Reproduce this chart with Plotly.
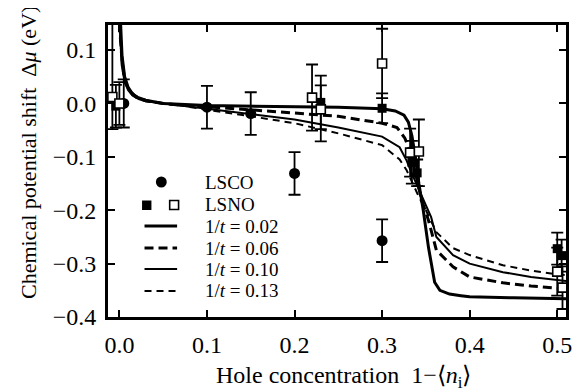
import plotly.graph_objects as go

# ---------------- data ----------------
# theory curves (1/t values)
c002_x = [0.0, 0.001, 0.003, 0.006, 0.01, 0.015, 0.02, 0.03, 0.05, 0.1, 0.15, 0.2, 0.25, 0.3, 0.315, 0.325,
          0.33, 0.334, 0.338, 0.342, 0.347, 0.353, 0.36, 0.366, 0.377, 0.39, 0.4, 0.45, 0.5, 0.512]
c002_y = [0.2, 0.16, 0.09, 0.05, 0.03, 0.018, 0.012, 0.006, 0.0, -0.004, -0.005, -0.005, -0.007, -0.01, -0.014, -0.022,
          -0.035, -0.06, -0.1, -0.15, -0.2, -0.27, -0.335, -0.35, -0.357, -0.36, -0.362, -0.364, -0.366, -0.366]

c006_x = [0.0, 0.003, 0.006, 0.01, 0.015, 0.02, 0.03, 0.05, 0.075, 0.1, 0.15, 0.2, 0.25, 0.3, 0.317, 0.326,
          0.332, 0.338, 0.345, 0.353, 0.362, 0.381, 0.4, 0.438, 0.47, 0.5, 0.512]
c006_y = [0.15, 0.08, 0.045, 0.028, 0.017, 0.011, 0.005, 0.0, -0.004, -0.006, -0.012, -0.018, -0.024, -0.037, -0.045, -0.065,
          -0.09, -0.13, -0.18, -0.219, -0.275, -0.306, -0.325, -0.336, -0.342, -0.346, -0.347]

c010_x = [0.0, 0.003, 0.006, 0.01, 0.015, 0.022, 0.03, 0.05, 0.075, 0.1, 0.15, 0.2, 0.25, 0.3, 0.32, 0.328,
          0.335, 0.342, 0.35, 0.356, 0.362, 0.381, 0.4, 0.438, 0.47, 0.5, 0.512]
c010_y = [0.15, 0.07, 0.04, 0.025, 0.015, 0.008, 0.004, 0.0, -0.005, -0.01, -0.02, -0.03, -0.045, -0.062, -0.082, -0.107,
          -0.135, -0.16, -0.19, -0.213, -0.25, -0.284, -0.3, -0.316, -0.325, -0.331, -0.333]

c013_x = [0.0, 0.003, 0.007, 0.012, 0.018, 0.025, 0.035, 0.05, 0.075, 0.1, 0.15, 0.2, 0.25, 0.3, 0.32, 0.328,
          0.335, 0.342, 0.35, 0.362, 0.381, 0.4, 0.438, 0.47, 0.5, 0.512]
c013_y = [0.15, 0.065, 0.04, 0.025, 0.015, 0.009, 0.004, 0.0, -0.005, -0.012, -0.024, -0.037, -0.056, -0.078, -0.105, -0.125,
          -0.15, -0.175, -0.2, -0.241, -0.271, -0.284, -0.303, -0.313, -0.32, -0.322]

# LSCO (filled circles)
lsco_x = [0.005, 0.1, 0.15, 0.2, 0.3]
lsco_y = [0.0, -0.007, -0.019, -0.131, -0.257]
lsco_err = [0.045, 0.04, 0.04, 0.04, 0.04]

# LSNO filled squares
lsnof_x = [-0.004, 0.23, 0.3, 0.334, 0.34, 0.5, 0.505]
lsnof_y = [-0.005, 0.002, -0.009, -0.11, -0.13, -0.272, -0.285]
lsnof_err = [0.04, 0.05, 0.028, 0.04, 0.025, 0.03, 0.03]

# LSNO open squares
lsnoo_x = [-0.008, 0.0, 0.22, 0.23, 0.3, 0.332, 0.342, 0.5, 0.506]
lsnoo_y = [0.012, 0.0, 0.011, -0.011, 0.075, -0.092, -0.09, -0.315, -0.345]
lsnoo_errp = [0.14, 0.04, 0.062, 0.045, 0.065, 0.045, 0.06, 0.045, 0.04]
lsnoo_errm = [0.06, 0.04, 0.062, 0.06, 0.065, 0.045, 0.065, 0.045, 0.04]

x_ticks = [0.0, 0.1, 0.2, 0.3, 0.4, 0.5]
y_ticks = [0.1, 0.0, -0.1, -0.2, -0.3, -0.4]
legend_labels = ["LSCO", "LSNO", "1/<i>t</i> = 0.02", "1/<i>t</i> = 0.06", "1/<i>t</i> = 0.10", "1/<i>t</i> = 0.13"]

# ---------------- figure ----------------
FONT = "Liberation Serif, Times New Roman, serif"
OFF = 8  # default page body margin
W, H = 582 - OFF, 392 - OFF
L, R, T, B = 108 - OFF, 10, 25 - OFF, 75
PW, PH = W - L - R, H - T - B

def px(x):  # page pixel x -> paper
    return (x - OFF - L) / PW

def py(y):  # page pixel y -> paper
    return (H - B - (y - OFF)) / PH

fig = go.Figure()

curve_styles = [
    (c002_x, c002_y, 3.0, "solid"),
    (c006_x, c006_y, 3.0, "9px,5px"),
    (c010_x, c010_y, 2.0, "solid"),
    (c013_x, c013_y, 2.0, "7px,5px"),
]
for cx, cy, w, d in curve_styles:
    fig.add_trace(go.Scatter(x=cx, y=cy, mode="lines",
                             line=dict(color="black", width=w, dash=d),
                             showlegend=False, hoverinfo="skip"))

eb = dict(type="data", color="black", thickness=1.8, width=6)
fig.add_trace(go.Scatter(x=lsco_x, y=lsco_y, mode="markers",
                         marker=dict(symbol="circle", size=11, color="black"),
                         error_y=dict(array=lsco_err, **eb), showlegend=False))
fig.add_trace(go.Scatter(x=lsnof_x, y=lsnof_y, mode="markers",
                         marker=dict(symbol="square", size=9, color="black"),
                         error_y=dict(array=lsnof_err, **eb), showlegend=False))
fig.add_trace(go.Scatter(x=lsnoo_x, y=lsnoo_y, mode="markers",
                         marker=dict(symbol="square", size=9, color="white",
                                     line=dict(color="black", width=1.6)),
                         error_y=dict(array=lsnoo_errp, arrayminus=lsnoo_errm, symmetric=False, **eb),
                         showlegend=False))

# manual legend
shapes = []
shapes.append(dict(type="circle", xref="paper", yref="paper",
                   x0=px(156.5), x1=px(167.5), y0=py(187.5), y1=py(176.5),
                   fillcolor="black", line=dict(color="black", width=0)))
shapes.append(dict(type="rect", xref="paper", yref="paper",
                   x0=px(142.5), x1=px(152), y0=py(210), y1=py(200.5),
                   fillcolor="black", line=dict(color="black", width=0)))
shapes.append(dict(type="rect", xref="paper", yref="paper",
                   x0=px(170.5), x1=px(179.5), y0=py(209.5), y1=py(200.5),
                   fillcolor="white", line=dict(color="black", width=1.6)))
leg_lines = [(226, 3.0, "solid"), (248, 3.0, "9px,5px"), (269, 2.0, "solid"), (291, 2.0, "7px,5px")]
for yy, w, d in leg_lines:
    shapes.append(dict(type="line", xref="paper", yref="paper",
                       x0=px(145), x1=px(178), y0=py(yy), y1=py(yy),
                       line=dict(color="black", width=w, dash=d)))

annotations = []
leg_y = [182, 204, 226, 248, 269, 290]
for lab, yy in zip(legend_labels, leg_y):
    annotations.append(dict(xref="paper", yref="paper", x=px(204), y=py(yy), text=lab,
                            showarrow=False, xanchor="left", yanchor="middle",
                            font=dict(family=FONT, size=19, color="black")))

annotations.append(dict(xref="paper", yref="paper", x=px(347), y=py(377),
                        text="Hole concentration\u00a0\u00a01\u2212\u27e8<i>n</i><sub>i</sub>\u27e9",
                        showarrow=False, xanchor="center", yanchor="middle",
                        font=dict(family=FONT, size=24, color="black")))
annotations.append(dict(xref="paper", yref="paper", x=px(27), y=py(153),
                        text="Chemical potential shift\u00a0\u00a0\u0394<i>\u03bc</i> (eV)",
                        textangle=-90, showarrow=False, xanchor="center", yanchor="middle",
                        font=dict(family=FONT, size=22, color="black")))

axis_common = dict(showline=True, linecolor="black", linewidth=3, mirror="ticks",
                   ticks="inside", ticklen=7, tickwidth=2, tickcolor="black",
                   showgrid=False, zeroline=False,
                   tickfont=dict(family=FONT, size=24, color="black"))

fig.update_layout(
    width=W, height=H,
    margin=dict(l=L, r=R, t=T, b=B),
    paper_bgcolor="white", plot_bgcolor="white",
    showlegend=False,
    shapes=shapes, annotations=annotations,
    xaxis=dict(range=[-0.013, 0.51], tickvals=x_ticks, tickformat=".1f",
               ticklabelstandoff=4, **axis_common),
    yaxis=dict(range=[-0.4, 0.147], tickvals=y_ticks, tickformat=".1f",
               ticklabelstandoff=4, **axis_common),
)

fig.write_html("out.html")
